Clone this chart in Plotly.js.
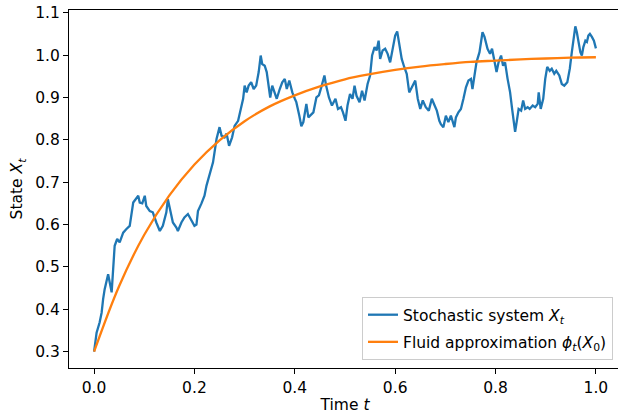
<!DOCTYPE html>
<html>
<head>
<meta charset="utf-8">
<script src="https://cdn.plot.ly/plotly-3.0.1.min.js"></script>
<style>
html, body { margin: 0; padding: 0; overflow: hidden; background: #fff; }
#chart { width: 623px; height: 415px; }
</style>
</head>
<body>
<div id="chart"></div>
<script>
// Stochastic system X_t
const stochT = [0.000,0.005,0.011,0.015,0.018,0.021,0.028,0.031,0.035,0.041,0.046,0.051,0.058,0.064,0.071,0.078,0.084,0.088,0.091,0.096,0.101,0.104,0.111,0.117,0.124,0.131,0.137,0.144,0.147,0.151,0.157,0.164,0.167,0.174,0.180,0.187,0.193,0.200,0.204,0.207,0.214,0.220,0.224,0.230,0.237,0.244,0.250,0.254,0.260,0.264,0.269,0.275,0.280,0.287,0.293,0.297,0.300,0.304,0.308,0.313,0.318,0.323,0.328,0.332,0.335,0.340,0.344,0.348,0.351,0.355,0.360,0.364,0.370,0.375,0.380,0.384,0.389,0.395,0.400,0.403,0.409,0.413,0.417,0.423,0.427,0.433,0.437,0.443,0.448,0.453,0.459,0.462,0.468,0.474,0.481,0.486,0.492,0.496,0.501,0.505,0.510,0.515,0.519,0.523,0.529,0.534,0.539,0.545,0.550,0.554,0.559,0.563,0.567,0.570,0.575,0.580,0.585,0.590,0.595,0.600,0.604,0.608,0.613,0.618,0.623,0.628,0.635,0.640,0.645,0.650,0.655,0.661,0.667,0.673,0.678,0.683,0.688,0.691,0.696,0.701,0.706,0.711,0.718,0.721,0.726,0.731,0.736,0.741,0.746,0.751,0.754,0.758,0.762,0.768,0.771,0.774,0.778,0.781,0.784,0.789,0.793,0.797,0.802,0.806,0.811,0.815,0.819,0.824,0.829,0.833,0.836,0.839,0.843,0.846,0.851,0.855,0.859,0.864,0.868,0.874,0.879,0.884,0.886,0.890,0.895,0.899,0.903,0.908,0.912,0.917,0.921,0.927,0.932,0.937,0.943,0.948,0.952,0.955,0.959,0.962,0.965,0.969,0.972,0.975,0.979,0.982,0.985,0.988,0.992,0.996,1.000];
const stochX = [0.300,0.345,0.369,0.392,0.424,0.447,0.483,0.463,0.440,0.550,0.566,0.558,0.581,0.589,0.597,0.652,0.660,0.668,0.652,0.650,0.668,0.644,0.632,0.629,0.605,0.585,0.597,0.629,0.660,0.636,0.605,0.593,0.585,0.605,0.617,0.625,0.612,0.597,0.600,0.632,0.650,0.668,0.692,0.715,0.747,0.802,0.830,0.810,0.806,0.815,0.786,0.806,0.833,0.845,0.881,0.897,0.928,0.912,0.928,0.936,0.920,0.928,0.960,0.999,0.979,0.975,0.960,0.928,0.900,0.928,0.908,0.897,0.920,0.936,0.944,0.920,0.940,0.912,0.897,0.889,0.857,0.832,0.842,0.885,0.853,0.861,0.865,0.900,0.905,0.925,0.952,0.930,0.900,0.881,0.897,0.873,0.877,0.865,0.845,0.881,0.908,0.897,0.928,0.904,0.889,0.916,0.893,0.932,0.952,0.999,1.019,1.011,1.034,0.991,1.011,1.015,1.003,0.983,1.015,1.046,1.056,1.031,0.991,0.972,0.956,0.912,0.928,0.940,0.897,0.873,0.893,0.877,0.869,0.897,0.883,0.869,0.845,0.837,0.830,0.857,0.842,0.857,0.830,0.853,0.865,0.873,0.897,0.924,0.940,0.944,0.920,0.952,0.983,1.007,1.031,1.054,1.043,1.031,1.015,1.003,1.015,0.991,0.960,0.983,0.999,0.975,0.983,0.944,0.912,0.873,0.842,0.819,0.849,0.873,0.869,0.893,0.873,0.877,0.873,0.881,0.877,0.885,0.912,0.873,0.897,0.944,0.972,0.963,0.968,0.956,0.963,0.952,0.932,0.928,0.936,0.968,1.007,1.031,1.068,1.054,1.031,1.007,0.999,1.019,1.034,1.031,1.046,1.050,1.043,1.034,1.016];

// Fluid approximation phi_t(X_0)
const fluidT = [0.00,0.05,0.10,0.15,0.20,0.25,0.30,0.35,0.40,0.45,0.50,0.55,0.60,0.65,0.70,0.75,0.80,0.85,0.90,0.95,1.00];
const fluidX = [0.300,0.455,0.576,0.669,0.742,0.799,0.844,0.879,0.905,0.926,0.943,0.955,0.965,0.973,0.979,0.984,0.987,0.990,0.992,0.994,0.995];

// Tick labels
const xTicks = [0.0,0.2,0.4,0.6,0.8,1.0];
const yTicks = [0.3,0.4,0.5,0.6,0.7,0.8,0.9,1.0,1.1];

const font = {family: 'DejaVu Sans, sans-serif', size: 15.5, color: '#000'};

const traces = [
  {x: stochT, y: stochX, type: 'scatter', mode: 'lines',
   name: 'Stochastic system <i>X</i><sub><i>t</i></sub>',
   legendgroup: 'a',
   line: {color: '#1f77b4', width: 2.3}},
  {x: fluidT, y: fluidX, type: 'scatter', mode: 'lines',
   name: 'Fluid approximation <i>ϕ</i><sub><i>t</i></sub>(<i>X</i><sub>0</sub>)',
   legendgroup: 'b',
   line: {color: '#ff7f0e', width: 2.3, shape: 'spline', smoothing: 1}}
];

const axisCommon = {
  showgrid: false, zeroline: false,
  showline: true, linecolor: '#000', linewidth: 1, mirror: true,
  ticks: 'outside', ticklen: 5, tickwidth: 1, tickcolor: '#000',
  tickfont: font, tickformat: '.1f'
};

const layout = {
  width: 623, height: 415, autosize: false,
  margin: {l: 69, r: 2, t: 10, b: 47, pad: 0},
  paper_bgcolor: '#fff', plot_bgcolor: '#fff',
  font: font,
  xaxis: Object.assign({}, axisCommon, {
    range: [-0.05, 1.05], tickvals: xTicks,
    title: {text: 'Time <i>t</i>', font: font, standoff: 3}
  }),
  yaxis: Object.assign({}, axisCommon, {
    range: [0.2615, 1.1065], tickvals: yTicks,
    title: {text: 'State <i>X</i><sub><i>t</i></sub>', font: font, standoff: 8}
  }),
  showlegend: true,
  legend: {
    x: 0.9855, y: 0.022, xanchor: 'right', yanchor: 'bottom',
    bgcolor: 'rgba(255,255,255,0.8)', bordercolor: '#cccccc', borderwidth: 1,
    font: font, traceorder: 'grouped', tracegroupgap: 4
  }
};

Plotly.newPlot('chart', traces, layout, {displayModeBar: false, staticPlot: true});
</script>
</body>
</html>
